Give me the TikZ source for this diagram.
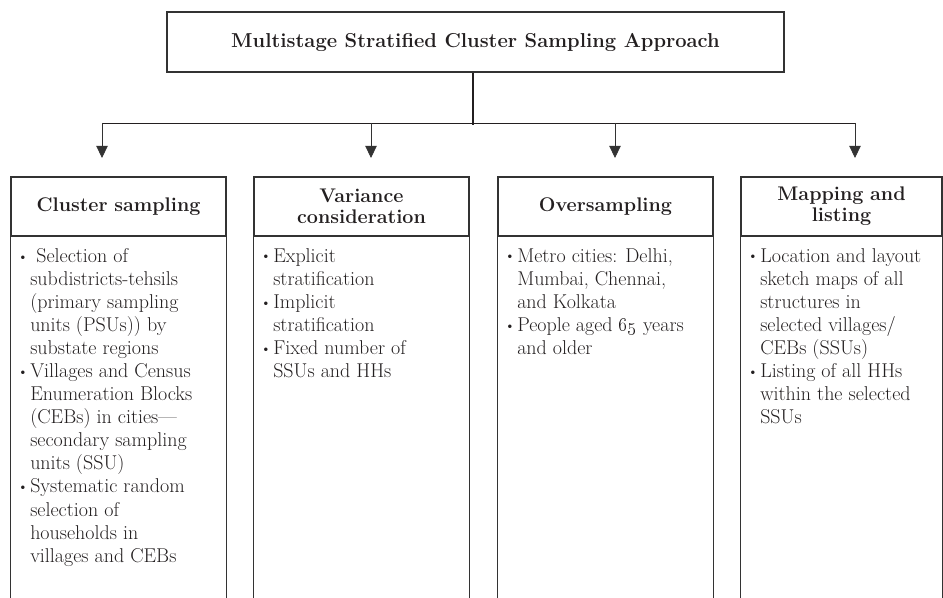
\documentclass[tikz,border=0pt]{standalone}
\usetikzlibrary{arrows.meta,positioning}
\definecolor{ink}{HTML}{231F20}
\definecolor{rule}{HTML}{333333}
\newcommand{\bul}{\llap{\raisebox{0.25ex}{\fontsize{9}{9}\selectfont\textbullet}\hspace{2pt}}}
\tikzset{
  titlebox/.style={draw=rule,line width=1.2pt,minimum width=462.75pt,minimum height=45pt,font=\bfseries\fontsize{15.1}{17}\selectfont,text=ink},
  headbox/.style={draw=rule,line width=1.1pt,minimum width=161.25pt,minimum height=44.25pt,text width=142.5pt,align=center,inner sep=0pt,font=\bfseries\fontsize{14.8}{15.8}\selectfont,text=ink},
  body/.style={anchor=north west,inner sep=0pt,align=left,font=\fontsize{15}{17.3}\selectfont,text=ink},
  side/.style={draw=rule,line width=1.1pt},
  busline/.style={draw=ink,line width=0.7pt},
  stem/.style={draw=ink,line width=1.5pt},
  arr/.style={-{Triangle[length=9pt,width=8.5pt]},draw=rule,line width=0.6pt}
}
\begin{document}
\begin{tikzpicture}[x=0.75pt,y=0.75pt]
\path[use as bounding box] (0,0) rectangle (943,-598);
\node[titlebox] (top) at (475.5,-42) {Multistage Stratified Cluster Sampling Approach};
\coordinate (bus) at (473,-123);
\coordinate (base) at (0,-598);
\coordinate (a1) at (102,-123);
\coordinate (a2) at (371,-123);
\coordinate (a3) at (615,-123);
\coordinate (a4) at (855,-123);
\draw[stem] (top.south -| bus) -- ([yshift=-1.5pt]bus);
\draw[busline] (a1) -- (a4);
\foreach \a in {a1,a2,a3,a4} \draw[arr] (\a) -- ++(0,-35);

\node[headbox] (clus) at (118.5,-206.5) {Cluster sampling};
\node[headbox] (vari) at (361.5,-206.5) {Variance\\consideration};
\node[headbox] (over) at (605.5,-206.5) {Oversampling};
\node[headbox,minimum width=150.75pt] (mapl) at (841.5,-206.5) {Mapping and\\listing};
\foreach \h in {clus,vari,over,mapl} {
  \draw[side] (\h.south west) -- (\h.south west |- base);
  \draw[side] (\h.south east) -- (\h.south east |- base);
}

\node[body] (clust) at (30,-248) {\bul\ Selection of\\
subdistricts-tehsils\\
(primary sampling\\
units (PSUs)) by\\
substate regions\\
\bul Villages and Census\\
Enumeration Blocks\\
(CEBs) in cities---\\
secondary sampling\\
units (SSU)\\
\bul Systematic random\\
selection of\\
households in\\
villages and CEBs};
\node[body] (varit) at (273,-248) {\bul Explicit\\
stratification\\
\bul Implicit\\
stratification\\
\bul Fixed number of\\
SSUs and HHs};
\node[body] (overt) at (517,-248) {\bul Metro cities: Delhi,\\
Mumbai, Chennai,\\
and Kolkata\\
\bul People aged \oldstylenums{65} years\\
and older};
\node[body] (maplt) at (760,-248) {\bul Location and layout\\
sketch maps of all\\
structures in\\
selected villages/\\
CEBs (SSUs)\\
\bul Listing of all HHs\\
within the selected\\
SSUs};
\end{tikzpicture}
\end{document}
